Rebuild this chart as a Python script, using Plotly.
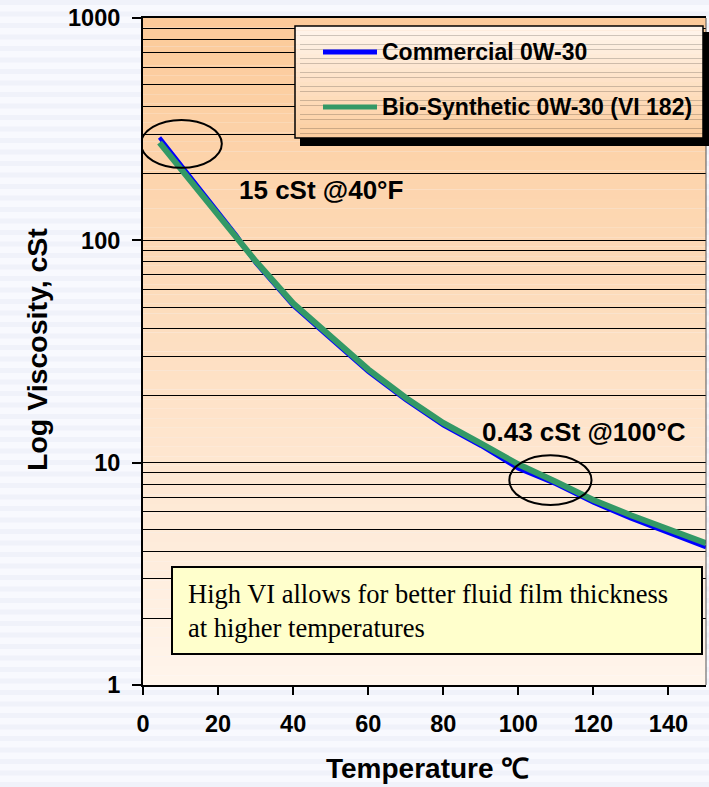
import math
import plotly.graph_objects as go

# Kinematic viscosity (cSt) versus temperature (degC)
temperature_c = [4.4, 25, 30, 40, 50, 60, 70, 80, 90, 100, 110, 120, 130, 140, 150]
commercial_cst = [290, 105, 79, 50.8, 36.0, 25.6, 19.1, 14.7, 11.9, 9.40, 8.0, 6.6, 5.6, 4.85, 4.16]
bio_synthetic_cst = [275, 102, 80.7, 52.1, 36.9, 26.3, 19.6, 15.1, 12.2, 9.83, 8.2, 6.8, 5.8, 5.0, 4.34]

series_names = ["Commercial 0W-30", "Bio-Synthetic 0W-30 (VI 182)"]
series_colors = ["#0000ff", "#339966"]
series_widths = [4, 6]

x_tick_values = [0, 20, 40, 60, 80, 100, 120, 140]
y_tick_values = [1, 10, 100, 1000]
y_tick_labels = ["1", "10", "100", "1000"]
y_minor_values = [m * 10 ** e for e in range(0, 3) for m in range(2, 10)]

# highlighted regions: (temp from, temp to, viscosity low, viscosity high)
highlight_regions = [(-0.5, 21.0, 212, 348), (97.6, 119.5, 6.45, 10.8)]

note_text = "High VI allows for better fluid film thickness<br>at higher temperatures"

# Figure geometry
W, H = 709, 787
ML, MR, MT, MB = 143, 3, 18, 102
PW, PH = W - ML - MR, H - MT - MB


def px(xp):
    return (xp - ML) / PW


def py(yp):
    return (H - MB - yp) / PH


def mix(c0, c1, t):
    return "rgb({},{},{})".format(*[round(a + (b - a) * t) for a, b in zip(c0, c1)])


SANS = "Liberation Sans, Arial, sans-serif"
SERIF = "Liberation Serif, Times New Roman, serif"

fig = go.Figure()
for name, vals, color, width in zip(series_names, [commercial_cst, bio_synthetic_cst],
                                    series_colors, series_widths):
    fig.add_trace(go.Scatter(x=temperature_c, y=vals, mode="lines", name=name,
                             line=dict(color=color, width=width), showlegend=False))

shapes = []

# faint horizontal banding on the page background
yb = 0.0
while yb < H:
    shapes.append(dict(type="rect", xref="paper", yref="paper", layer="below",
                       x0=px(0), x1=px(W), y0=py(yb + 5), y1=py(yb),
                       fillcolor="#f0f2fa", line=dict(width=0)))
    yb += 11.5

# vertical gradient for the plotting area
top_c, bot_c = (252, 202, 153), (255, 245, 236)
n = 70
for i in range(n):
    shapes.append(dict(type="rect", xref="paper", yref="paper", layer="below",
                       x0=0, x1=1, y0=1 - (i + 1) / n, y1=1 - i / n,
                       fillcolor=mix(top_c, bot_c, (i + 0.5) / n), line=dict(width=0)))

# right-hand frame edge
shapes.append(dict(type="line", xref="paper", yref="paper", x0=1, x1=1, y0=0, y1=1,
                   line=dict(color="#555555", width=1)))

# legend box with drop shadow and inverted gradient
lx0, lx1, ly0, ly1 = 295, 703, 26, 138
shapes.append(dict(type="rect", xref="paper", yref="paper", layer="above",
                   x0=px(lx0 + 5), x1=px(lx1 + 7), y0=py(ly1 + 8), y1=py(ly0 + 6),
                   fillcolor="black", line=dict(width=0)))
nl = 24
for i in range(nl):
    y_top = ly0 + (ly1 - ly0) * i / nl
    y_bot = ly0 + (ly1 - ly0) * (i + 1) / nl
    shapes.append(dict(type="rect", xref="paper", yref="paper", layer="above",
                       x0=px(lx0), x1=px(lx1), y0=py(y_bot), y1=py(y_top),
                       fillcolor=mix((255, 246, 238), (252, 205, 158), (i + 0.5) / nl),
                       line=dict(width=0)))
shapes.append(dict(type="rect", xref="paper", yref="paper", layer="above",
                   x0=px(lx0), x1=px(lx1), y0=py(ly1), y1=py(ly0),
                   line=dict(color="black", width=1.5)))

annotations = []
for row, (name, color) in enumerate(zip(series_names, series_colors)):
    yy = 52 + row * 55
    shapes.append(dict(type="line", xref="paper", yref="paper", layer="above",
                       x0=px(323), x1=px(377), y0=py(yy), y1=py(yy),
                       line=dict(color=color, width=5)))
    annotations.append(dict(xref="paper", yref="paper", x=px(380), y=py(yy),
                            xanchor="left", yanchor="middle", showarrow=False, text=name,
                            font=dict(family=SANS, size=23, color="black", weight="bold")))

# highlight ellipses
for t0, t1, v0, v1 in highlight_regions:
    shapes.append(dict(type="circle", xref="x", yref="y", layer="above",
                       x0=t0, x1=t1, y0=v0, y1=v1,
                       line=dict(color="black", width=2)))

# note box
shapes.append(dict(type="rect", xref="paper", yref="paper", layer="above",
                   x0=px(172), x1=px(702), y0=py(654), y1=py(567),
                   fillcolor="#ffffcc", line=dict(color="black", width=2)))
annotations.append(dict(xref="paper", yref="paper", x=px(186), y=py(611),
                        xanchor="left", yanchor="middle", align="left", showarrow=False,
                        text=note_text, font=dict(family=SERIF, size=26.5, color="#000000")))

# viscosity differences between the two oils
i_hot = temperature_c.index(100)
cold_gap = commercial_cst[0] - bio_synthetic_cst[0]
hot_gap = bio_synthetic_cst[i_hot] - commercial_cst[i_hot]
annotations.append(dict(x=25.0, y=math.log10(169), xanchor="left", yanchor="middle",
                        showarrow=False, text=f"{cold_gap:.0f} cSt @40°F",
                        font=dict(family=SANS, size=26, color="black", weight="bold")))
annotations.append(dict(x=89.8, y=math.log10(13.7), xanchor="left", yanchor="middle",
                        showarrow=False, text=f"{hot_gap:.2f} cSt @100°C",
                        font=dict(family=SANS, size=26, color="black", weight="bold")))

# axis titles
annotations.append(dict(xref="paper", yref="paper", x=px(427), y=py(768),
                        xanchor="center", yanchor="middle", showarrow=False,
                        text="Temperature ℃",
                        font=dict(family=SANS, size=28, color="black", weight="bold")))
annotations.append(dict(xref="paper", yref="paper", x=px(37), y=py(350),
                        xanchor="center", yanchor="middle", showarrow=False, textangle=-90,
                        text="Log Viscosity, cSt",
                        font=dict(family=SANS, size=28.5, color="black", weight="bold")))

fig.update_layout(
    width=W, height=H,
    margin=dict(l=ML, r=MR, t=MT, b=MB, autoexpand=False),
    paper_bgcolor="#f8f9fe",
    plot_bgcolor="rgba(0,0,0,0)",
    shapes=shapes,
    annotations=annotations,
    showlegend=False,
    xaxis=dict(range=[0, 150], tickmode="array", tickvals=x_tick_values,
               ticks="outside", ticklen=8, tickwidth=1.5, tickcolor="black",
               ticklabelstandoff=9, showgrid=False, zeroline=False,
               showline=True, linecolor="black", linewidth=2, mirror=True,
               tickfont=dict(family=SANS, size=23.5, color="black", weight="bold")),
    yaxis=dict(type="log", range=[0, 3], tickmode="array", tickvals=y_tick_values,
               ticktext=y_tick_labels, ticks="outside", ticklen=9, tickwidth=1.5,
               tickcolor="black", ticklabelstandoff=7,
               showgrid=True, gridcolor="black", gridwidth=1.3, zeroline=False,
               showline=True, linecolor="black", linewidth=2,
               minor=dict(tickvals=y_minor_values, showgrid=True, gridcolor="black",
                          gridwidth=1.3, ticks=""),
               tickfont=dict(family=SANS, size=23.5, color="black", weight="bold")),
)

fig.write_html("out.html")
